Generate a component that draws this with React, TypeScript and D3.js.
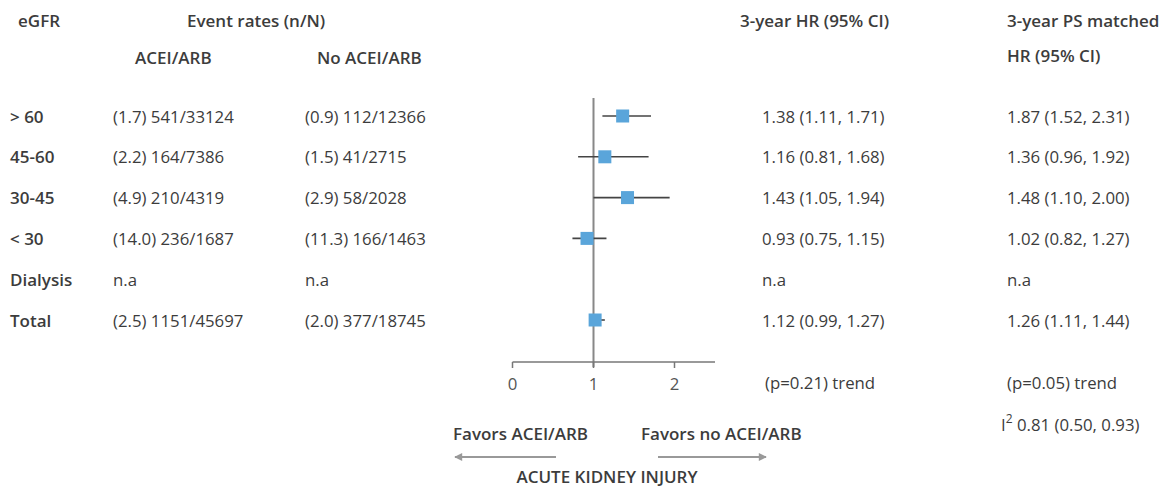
import React from "react";
import * as d3 from "d3";

const rowLabels = ["> 60", "45-60", "30-45", "< 30", "Dialysis", "Total"];
const acei = ["(1.7) 541/33124", "(2.2) 164/7386", "(4.9) 210/4319", "(14.0) 236/1687", "n.a", "(2.5) 1151/45697"];
const noAcei = ["(0.9) 112/12366", "(1.5) 41/2715", "(2.9) 58/2028", "(11.3) 166/1463", "n.a", "(2.0) 377/18745"];
const hrText = ["1.38 (1.11, 1.71)", "1.16 (0.81, 1.68)", "1.43 (1.05, 1.94)", "0.93 (0.75, 1.15)", "n.a", "1.12 (0.99, 1.27)"];
const psText = ["1.87 (1.52, 2.31)", "1.36 (0.96, 1.92)", "1.48 (1.10, 2.00)", "1.02 (0.82, 1.27)", "n.a", "1.26 (1.11, 1.44)"];
// plotted estimates (null = no mark)
const hrPoint: (number | null)[] = [1.36, 1.14, 1.42, 0.92, null, 1.02];
const hrLow: (number | null)[] = [1.11, 0.81, 1.0, 0.74, null, 0.99];
const hrHigh: (number | null)[] = [1.71, 1.68, 1.94, 1.16, null, 1.14];
const axisTicks = [0, 1, 2];

const FONT = "'Open Sans', 'Noto Sans', sans-serif";
const TXT = "#3c3c3c";
const REG = 16.8;
const BOLD = 17;

export default function App() {
  const x = d3.scaleLinear().domain([0, 2.5]).range([512.5, 715]);
  const y = d3.scalePoint<string>().domain(rowLabels).range([116, 320]);
  const axisY = 362;
  const sq = 13;

  return (
    <svg width={1172} height={488} style={{ position: "absolute", left: 0, top: 0, background: "#fff" }}
      fontFamily={FONT} fontSize={REG}>
      {/* headers */}
      <g fill={TXT} fontWeight={600} fontSize={BOLD} dominantBaseline="central">
        <text x={18} y={20}>eGFR</text>
        <text x={187} y={20}>Event rates (n/N)</text>
        <text x={135} y={57}>ACEI/ARB</text>
        <text x={317} y={57}>No ACEI/ARB</text>
        <text x={740} y={20}>3-year HR (95% CI)</text>
        <text x={1007} y={20}>3-year PS matched</text>
        <text x={1007} y={55}>HR (95% CI)</text>
      </g>
      {/* rows */}
      {rowLabels.map((r, i) => (
        <g key={r} fill={TXT} dominantBaseline="central">
          <text x={10} y={y(r)} fontWeight={600} fontSize={BOLD}>{r}</text>
          <text x={113} y={y(r)}>{acei[i]}</text>
          <text x={305} y={y(r)}>{noAcei[i]}</text>
          <text x={762} y={y(r)}>{hrText[i]}</text>
          <text x={1007} y={y(r)}>{psText[i]}</text>
        </g>
      ))}
      {/* trend rows */}
      <g fill={TXT} dominantBaseline="central">
        <text x={765} y={382}>(p=0.21) trend</text>
        <text x={1007} y={382}>(p=0.05) trend</text>
        <text x={1001} y={424}>
          I<tspan fontSize={12} dy={-6}>2</tspan>
          <tspan dy={6}> 0.81 (0.50, 0.93)</tspan>
        </text>
      </g>
      {/* reference line */}
      <line x1={x(1)} x2={x(1)} y1={98} y2={axisY + 5} stroke="#888" strokeWidth={2} />
      {/* axis */}
      <line x1={x(0)} x2={x(2.5)} y1={axisY} y2={axisY} stroke="#777" strokeWidth={1.5} />
      {axisTicks.map((t) => (
        <g key={t}>
          <line x1={x(t)} x2={x(t)} y1={axisY} y2={axisY + 6} stroke="#777" strokeWidth={1.5} />
          <text x={x(t)} y={383} textAnchor="middle" dominantBaseline="central" fill="#555">{t}</text>
        </g>
      ))}
      {/* CIs and points */}
      {rowLabels.map((r, i) =>
        hrPoint[i] == null ? null : (
          <g key={"m" + r}>
            <line x1={x(hrLow[i] as number)} x2={x(hrHigh[i] as number)} y1={y(r)} y2={y(r)} stroke="#444" strokeWidth={1.6} />
            <rect x={x(hrPoint[i] as number) - sq / 2} y={(y(r) as number) - sq / 2} width={sq} height={sq} fill="#5aa5da" />
          </g>
        )
      )}
      {/* favors labels & arrows */}
      <defs>
        <marker id="ah" viewBox="0 0 10 10" refX={9} refY={5} markerWidth={5} markerHeight={4} orient="auto-start-reverse">
          <path d="M0,0 L10,5 L0,10 z" fill="#999" />
        </marker>
      </defs>
      <g fill={TXT} fontWeight={600} fontSize={BOLD} dominantBaseline="central">
        <text x={453} y={433}>Favors ACEI/ARB</text>
        <text x={641} y={433}>Favors no ACEI/ARB</text>
        <text x={607} y={476} textAnchor="middle">ACUTE KIDNEY INJURY</text>
      </g>
      <line x1={556} x2={455} y1={457} y2={457} stroke="#999" strokeWidth={2} markerEnd="url(#ah)" />
      <line x1={658} x2={766} y1={457} y2={457} stroke="#999" strokeWidth={2} markerEnd="url(#ah)" />
    </svg>
  );
}
